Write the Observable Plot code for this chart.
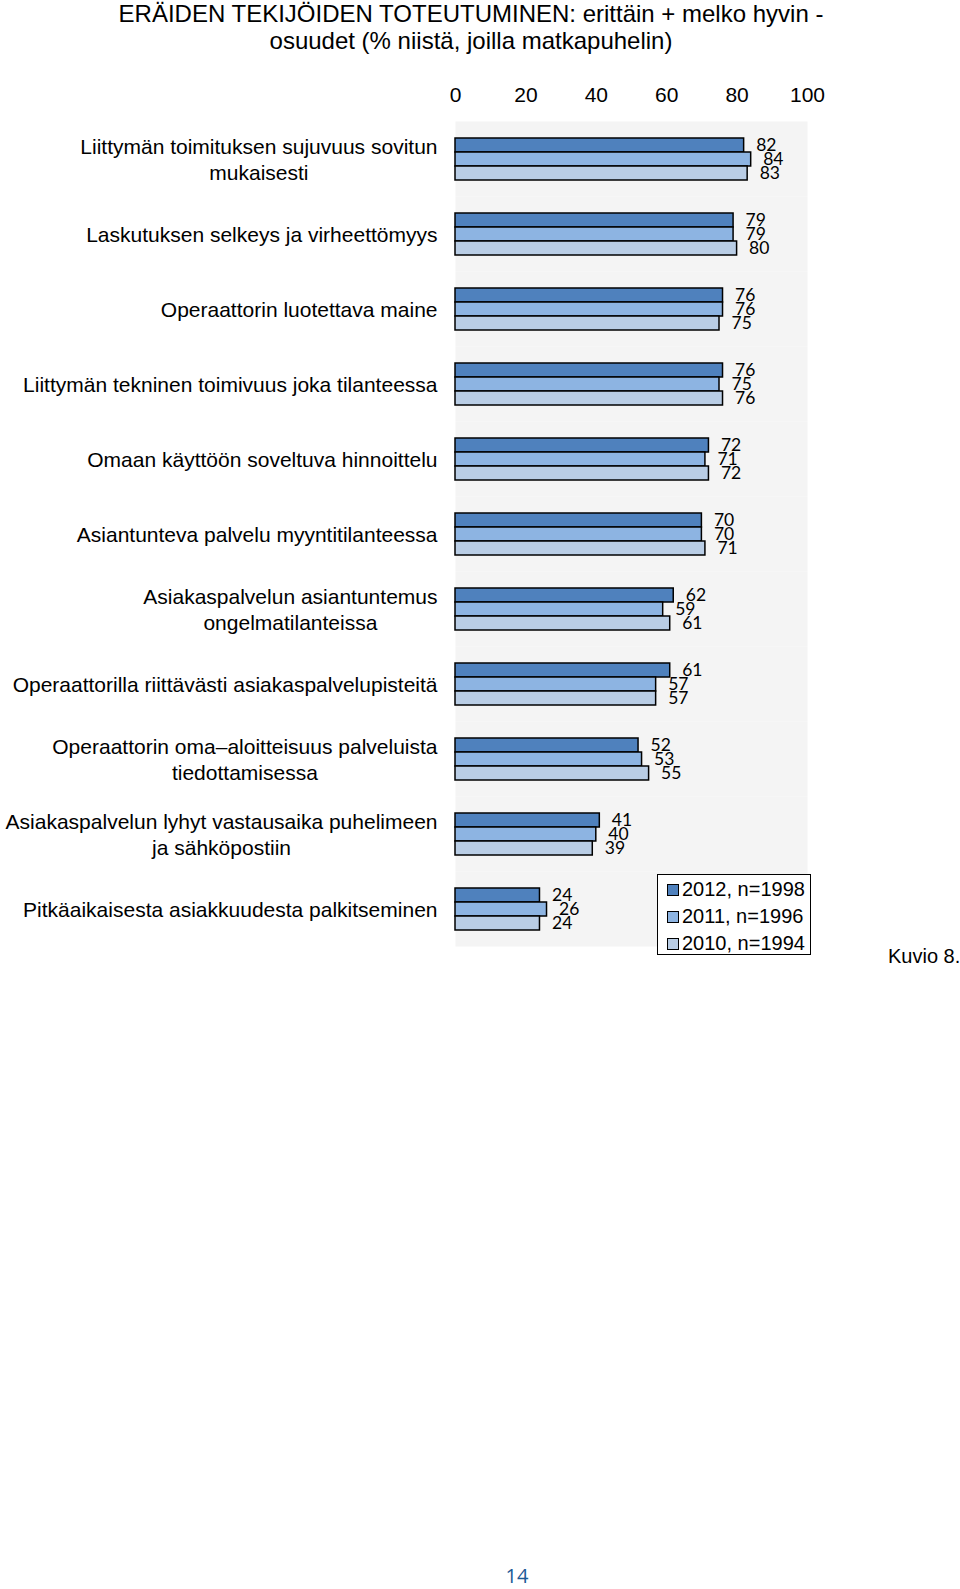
<!DOCTYPE html>
<html>
<head>
<meta charset="utf-8">
<script src="https://cdn.jsdelivr.net/npm/d3@7"></script>
<script src="https://cdn.jsdelivr.net/npm/@observablehq/plot@0.6"></script>
<style>
  html, body { margin: 0; padding: 0; background: #fff; }
  #page { position: relative; width: 960px; height: 1589px; font-family: "Liberation Sans", Arial, sans-serif; color: #000; overflow: hidden; }
  #title { position: absolute; left: 0; top: 0; width: 942px; text-align: center; font-size: 24px; line-height: 27.4px; }
  #chart { position: absolute; left: 0; top: 60px; line-height: 0; }
  #chart svg { display: block; }
  #legend { position: absolute; left: 657px; top: 874px; width: 152px; height: 79px; border: 1.5px solid #000; background: #fff; font-size: 20px; }
  #legend .row { position: absolute; left: 9px; height: 24px; line-height: 24px; white-space: nowrap; }
  #legend .sw { display: inline-block; width: 10px; height: 10px; border: 1px solid #000; margin-right: 3px; vertical-align: 0px; }
  #kuvio { position: absolute; left: 888px; top: 945px; font-size: 20px; white-space: nowrap; }
  #pagenum { position: absolute; left: 500px; top: 1562px; width: 34px; text-align: center; font-size: 20px; color: #1c5a96; font-family: "Open Sans", sans-serif; }
</style>
</head>
<body>
<div id="page">
  <div id="title">ERÄIDEN TEKIJÖIDEN TOTEUTUMINEN: erittäin + melko hyvin -<br>osuudet (% niistä, joilla matkapuhelin)</div>
  <div id="chart"></div>
  <div id="legend"></div>
  <div id="kuvio">Kuvio 8.</div>
  <div id="pagenum">14</div>
</div>
<script>
const categories = [
  "Liittymän toimituksen sujuvuus sovitun\nmukaisesti",
  "Laskutuksen selkeys ja virheettömyys",
  "Operaattorin luotettava maine",
  "Liittymän tekninen toimivuus joka tilanteessa",
  "Omaan käyttöön soveltuva hinnoittelu",
  "Asiantunteva palvelu myyntitilanteessa",
  "Asiakaspalvelun asiantuntemus\nongelmatilanteissa",
  "Operaattorilla riittävästi asiakaspalvelupisteitä",
  "Operaattorin oma–aloitteisuus palveluista\ntiedottamisessa",
  "Asiakaspalvelun lyhyt vastausaika puhelimeen\nja sähköpostiin",
  "Pitkäaikaisesta asiakkuudesta palkitseminen"
];
const series = ["2012", "2011", "2010"];
const seriesLabels = ["2012, n=1998", "2011, n=1996", "2010, n=1994"];
const v2012 = [82, 79, 76, 76, 72, 70, 62, 61, 52, 41, 24];
const v2011 = [84, 79, 76, 75, 71, 70, 59, 57, 53, 40, 26];
const v2010 = [83, 80, 75, 76, 72, 71, 61, 57, 55, 39, 24];
const xTicks = [0, 20, 40, 60, 80, 100];
const colors = ["#4f81bd", "#8db4e2", "#b9cde5"];

const valuesBySeries = {"2012": v2012, "2011": v2011, "2010": v2010};
const data = [];
categories.forEach((c, i) => {
  series.forEach(s => data.push({category: c, series: s, value: valuesBySeries[s][i]}));
});

const chart = Plot.plot({
  width: 960,
  height: 899,
  marginLeft: 455,
  marginRight: 153,
  marginTop: 58,
  marginBottom: 10,
  style: {fontFamily: "'Liberation Sans', Arial, sans-serif", background: "transparent", color: "#000"},
  x: {domain: [0, 100]},
  y: {domain: series, paddingInner: 0, paddingOuter: 1.02, axis: null},
  fy: {domain: categories, padding: 0},
  color: {domain: series, range: colors},
  marks: [
    Plot.frame({fill: "#f4f4f4", stroke: null}),
    Plot.axisX({anchor: "top", ticks: xTicks, tickSize: 0, tickPadding: 20, fontSize: 21, label: null}),
    Plot.axisFy({anchor: "left", tickSize: 0, tickPadding: 18, fontSize: 21, lineHeight: 1.2, label: null}),
    Plot.barX(data, {x: "value", y: "series", fy: "category", fill: "series", stroke: "#000", strokeWidth: 1.5}),
    Plot.text(data, {x: "value", y: "series", fy: "category", text: d => String(d.value), dx: 12, textAnchor: "start", fontSize: 17.5, fontFamily: "Lato, 'Open Sans', sans-serif", fill: "#000"})
  ]
});
document.getElementById("chart").appendChild(chart);

// center multi-line category labels within their right-aligned block
chart.querySelectorAll('g[aria-label="fy-axis tick label"] text').forEach(t => {
  const spans = t.querySelectorAll("tspan");
  if (spans.length > 1) {
    let w = 0;
    spans.forEach(s => { w = Math.max(w, s.getComputedTextLength()); });
    t.setAttribute("text-anchor", "middle");
    spans.forEach(s => s.setAttribute("x", String(-w / 2)));
  }
});

const legend = document.getElementById("legend");
seriesLabels.forEach((lab, i) => {
  const row = document.createElement("div");
  row.className = "row";
  row.style.top = (2 + i * 27.2) + "px";
  row.innerHTML = `<span class="sw" style="background:${colors[i]}"></span>${lab}`;
  legend.appendChild(row);
});
</script>
</body>
</html>
